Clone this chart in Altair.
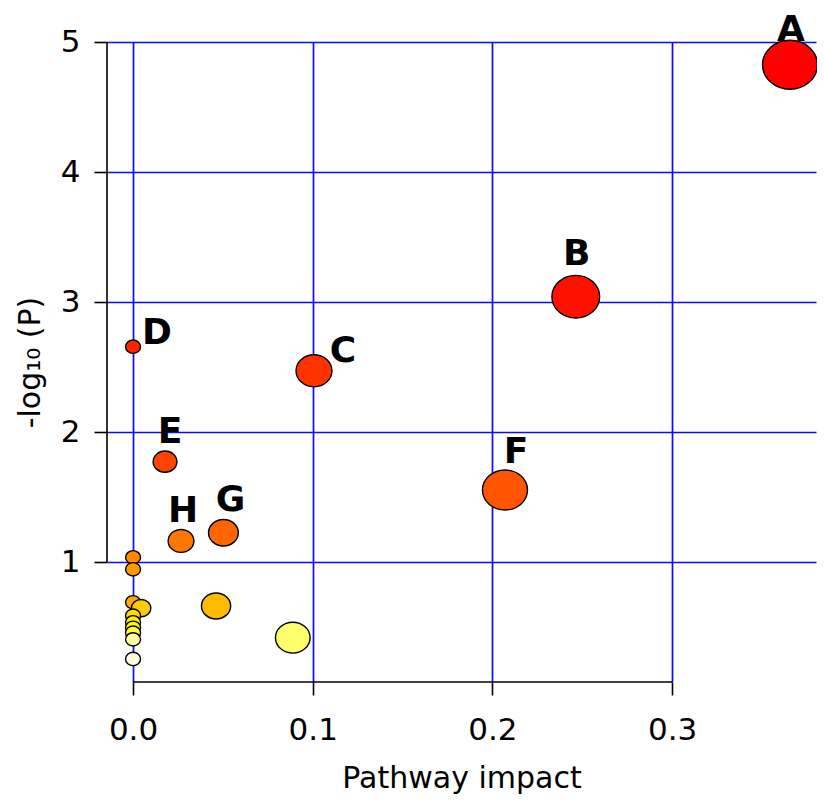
import altair as alt
import pandas as pd

# pathway impact (x) and -log10(P) (y), ordered from most to least significant
impact = [0.3656, 0.2464, 0.0, 0.1007, 0.0178, 0.2070, 0.0503, 0.0267,
          0.0, 0.0, 0.0, 0.0462, 0.0045, 0.0, 0.0, 0.0, 0.0, 0.0889, 0.0, 0.0]
neglogp = [4.825, 3.041, 2.656, 2.471, 1.772, 1.554, 1.225, 1.162,
           1.036, 0.944, 0.690, 0.662, 0.645, 0.587, 0.536, 0.494, 0.456, 0.418, 0.405, 0.254]
labels = ["A", "B", "D", "C", "E", "F", "G", "H"] + [""] * 12

x_ticks = [0.0, 0.1, 0.2, 0.3]
y_ticks = [1, 2, 3, 4, 5]

df = pd.DataFrame({"impact": impact, "logp": neglogp, "label": labels})

# where each letter sits relative to its bubble (px)
nudge = {"A": (1, -35), "B": (1, -43), "C": (29, -20), "D": (24, -14),
         "E": (5, -30), "F": (11, -38), "G": (7, -33), "H": (2, -30)}

W, H = 709, 640
font = "DejaVu Sans"
ellipse = "M-1,0A1,0.89,0,1,1,1,0A1,0.89,0,1,1,-1,0Z"

xs = alt.Scale(domain=[-0.0145, 0.3801], nice=False, zero=False)
ys = alt.Scale(domain=[0.077, 5.0], nice=False, zero=False)

x_axis = alt.Axis(values=x_ticks, format=".1f", grid=True, domain=False,
                  labelBaseline="alphabetic", labelPadding=44,
                  titleX=W / 2, titleY=105, titleBaseline="alphabetic", titleAlign="center")
y_axis = alt.Axis(values=y_ticks, format="d", grid=True, domain=False,
                  labelPadding=14, labelBaseline="middle",
                  titleX=-77, titleY=H / 2, titleAngle=270, titleBaseline="middle",
                  titleAlign="center")

X = alt.X("impact:Q", scale=xs, axis=x_axis, title="Pathway impact")
Y = alt.Y("logp:Q", scale=ys, axis=y_axis, title="-log₁₀ (P)")

base = alt.Chart(df)

# heat colours by significance rank, bubble width grows with sqrt(impact)
points = base.transform_window(
    rank="row_number()", sort=[alt.SortField("logp", order="descending")]
).transform_calculate(
    w="15 + 66 * sqrt(datum.impact)", area="datum.w * datum.w"
).mark_point(shape=ellipse, filled=True, opacity=1, stroke="black", strokeWidth=1.4).encode(
    x=X, y=Y,
    size=alt.Size("area:Q", scale=None, legend=None),
    color=alt.Color("rank:Q", legend=None,
                    scale=alt.Scale(domain=[1, 16, 17, 20],
                                    range=["#FF0000", "#FFFF00", "#FFFF30", "#FFFFE0"],
                                    interpolate="rgb")),
    order=alt.Order("rank:Q"),
)

texts = []
for lab, (ddx, ddy) in nudge.items():
    texts.append(
        base.transform_filter(alt.datum.label == lab).mark_text(
            font=font, fontWeight="bold", fontSize=36, color="black",
            baseline="middle", align="center", dx=ddx, dy=ddy
        ).encode(x=X, y=Y, text="label:N")
    )

# axis lines only over the tick range
x_line = alt.Chart(pd.DataFrame({"impact": [min(x_ticks)], "end": [max(x_ticks)]})).mark_rule(
    color="black", strokeWidth=1.6
).encode(x=X, x2="end:Q", y=alt.value(H))
y_line = alt.Chart(pd.DataFrame({"logp": [min(y_ticks)], "end": [max(y_ticks)]})).mark_rule(
    color="black", strokeWidth=1.6
).encode(y=Y, y2="end:Q", x=alt.value(0))

chart = alt.layer(x_line, y_line, points, *texts).properties(
    width=W, height=H,
    autosize=alt.AutoSizeParams(type="none"),
    padding={"left": 99, "top": 34, "right": 1, "bottom": 116},
).configure_view(stroke=None, clip=False).configure_axis(
    gridColor="#0a0aff", gridWidth=1.7, gridOpacity=1,
    tickColor="black", tickSize=13, tickWidth=1.6,
    labelFont=font, labelFontSize=31, labelColor="black",
    titleFont=font, titleFontSize=30, titleFontWeight="normal", titleColor="black",
)

chart.save("out.html", embed_options={"renderer": "svg", "actions": False})
